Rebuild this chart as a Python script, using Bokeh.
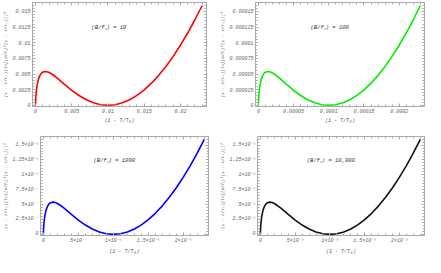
from bokeh.plotting import figure
from bokeh.layouts import column, row
from bokeh.models import FixedTicker, LinearAxis, Range1d, Label
from bokeh.embed import file_html
from bokeh.resources import INLINE

# ---------------- data ----------------
x1 = [0, 5e-6, 1e-5, 2e-5, 5e-5, 1e-4, 2e-4, 4e-4, 6e-4, 8e-4, 1e-3, 1.35e-3, 1.7e-3, 2e-3,
      2.5e-3, 3e-3, 4e-3, 5e-3, 6e-3, 7e-3, 8e-3, 9e-3, 1e-2, 1.1e-2, 1.2e-2, 1.3e-2, 1.4e-2,
      1.5e-2, 1.6e-2, 1.7e-2, 1.8e-2, 1.9e-2, 2e-2, 2.1e-2, 2.2e-2, 2.3e-2]
y1 = [0, 2.89e-4, 4.77e-4, 7.72e-4, 1.404e-3, 2.121e-3, 3.06e-3, 4.144e-3, 4.749e-3, 5.104e-3,
      5.302e-3, 5.413e-3, 5.338e-3, 5.18e-3, 4.805e-3, 4.349e-3, 3.358e-3, 2.402e-3, 1.566e-3,
      8.9e-4, 3.98e-4, 1.0e-4, 0, 1.0e-4, 3.99e-4, 8.95e-4, 1.585e-3, 2.466e-3, 3.534e-3,
      4.787e-3, 6.219e-3, 7.828e-3, 9.609e-3, 1.156e-2, 1.368e-2, 1.596e-2]

x2 = [0, 5e-8, 1e-7, 2e-7, 5e-7, 1e-6, 2e-6, 4e-6, 6e-6, 8e-6, 1e-5, 1.35e-5, 1.7e-5, 2e-5,
      2.5e-5, 3e-5, 4e-5, 5e-5, 6e-5, 7e-5, 8e-5, 9e-5, 1e-4, 1.1e-4, 1.2e-4, 1.3e-4, 1.4e-4,
      1.5e-4, 1.6e-4, 1.7e-4, 1.8e-4, 1.9e-4, 2e-4, 2.1e-4, 2.2e-4, 2.3e-4]
y2 = [0, 2.89e-6, 4.77e-6, 7.72e-6, 1.404e-5, 2.121e-5, 3.06e-5, 4.144e-5, 4.749e-5, 5.104e-5,
      5.302e-5, 5.413e-5, 5.338e-5, 5.18e-5, 4.805e-5, 4.349e-5, 3.358e-5, 2.402e-5, 1.566e-5,
      8.9e-6, 3.98e-6, 1.0e-6, 0, 1.0e-6, 3.99e-6, 8.95e-6, 1.585e-5, 2.466e-5, 3.534e-5,
      4.787e-5, 6.219e-5, 7.828e-5, 9.609e-5, 1.156e-4, 1.368e-4, 1.596e-4]

x3 = [0, 5e-10, 1e-9, 2e-9, 5e-9, 1e-8, 2e-8, 4e-8, 6e-8, 8e-8, 1e-7, 1.35e-7, 1.7e-7, 2e-7,
      2.5e-7, 3e-7, 4e-7, 5e-7, 6e-7, 7e-7, 8e-7, 9e-7, 1e-6, 1.1e-6, 1.2e-6, 1.3e-6, 1.4e-6,
      1.5e-6, 1.6e-6, 1.7e-6, 1.8e-6, 1.9e-6, 2e-6, 2.1e-6, 2.2e-6, 2.3e-6]
y3 = [0, 2.89e-8, 4.77e-8, 7.72e-8, 1.404e-7, 2.121e-7, 3.06e-7, 4.144e-7, 4.749e-7, 5.104e-7,
      5.302e-7, 5.413e-7, 5.338e-7, 5.18e-7, 4.805e-7, 4.349e-7, 3.358e-7, 2.402e-7, 1.566e-7,
      8.9e-8, 3.98e-8, 1.0e-8, 0, 1.0e-8, 3.99e-8, 8.95e-8, 1.585e-7, 2.466e-7, 3.534e-7,
      4.787e-7, 6.219e-7, 7.828e-7, 9.609e-7, 1.156e-6, 1.368e-6, 1.596e-6]

x4 = [0, 5e-12, 1e-11, 2e-11, 5e-11, 1e-10, 2e-10, 4e-10, 6e-10, 8e-10, 1e-9, 1.35e-9, 1.7e-9, 2e-9,
      2.5e-9, 3e-9, 4e-9, 5e-9, 6e-9, 7e-9, 8e-9, 9e-9, 1e-8, 1.1e-8, 1.2e-8, 1.3e-8, 1.4e-8,
      1.5e-8, 1.6e-8, 1.7e-8, 1.8e-8, 1.9e-8, 2e-8, 2.1e-8, 2.2e-8, 2.3e-8]
y4 = [0, 2.89e-10, 4.77e-10, 7.72e-10, 1.404e-9, 2.121e-9, 3.06e-9, 4.144e-9, 4.749e-9, 5.104e-9,
      5.302e-9, 5.413e-9, 5.338e-9, 5.18e-9, 4.805e-9, 4.349e-9, 3.358e-9, 2.402e-9, 1.566e-9,
      8.9e-10, 3.98e-10, 1.0e-10, 0, 1.0e-10, 3.99e-10, 8.95e-10, 1.585e-9, 2.466e-9, 3.534e-9,
      4.787e-9, 6.219e-9, 7.828e-9, 9.609e-9, 1.156e-8, 1.368e-8, 1.596e-8]

# tick values and labels
xt1 = [0, 0.005, 0.01, 0.015, 0.02]
xl1 = ["0", "0.005", "0.01", "0.015", "0.02"]
yt1 = [0, 0.0025, 0.005, 0.0075, 0.01, 0.0125, 0.015]
yl1 = ["0", "0.0025", "0.005", "0.0075", "0.01", "0.0125", "0.015"]

xt2 = [0, 0.00005, 0.0001, 0.00015, 0.0002]
xl2 = ["0", "0.00005", "0.0001", "0.00015", "0.0002"]
yt2 = [0, 0.000025, 0.00005, 0.000075, 0.0001, 0.000125, 0.00015]
yl2 = ["0", "0.000025", "0.00005", "0.000075", "0.0001", "0.000125", "0.00015"]

xt3 = [0, 5e-7, 1e-6, 1.5e-6, 2e-6]
xl3 = ["0", "5×10⁻⁷", "1×10⁻⁶", "1.5×10⁻⁶", "2×10⁻⁶"]
yt3 = [0, 2.5e-7, 5e-7, 7.5e-7, 1e-6, 1.25e-6, 1.5e-6]
yl3 = ["0", "2.5×10⁻⁷", "5×10⁻⁷", "7.5×10⁻⁷", "1×10⁻⁶", "1.25×10⁻⁶", "1.5×10⁻⁶"]

xt4 = [0, 5e-9, 1e-8, 1.5e-8, 2e-8]
xl4 = ["0", "5×10⁻⁹", "1×10⁻⁸", "1.5×10⁻⁸", "2×10⁻⁸"]
yt4 = [0, 2.5e-9, 5e-9, 7.5e-9, 1e-8, 1.25e-8, 1.5e-8]
yl4 = ["0", "2.5×10⁻⁹", "5×10⁻⁹", "7.5×10⁻⁹", "1×10⁻⁸", "1.25×10⁻⁸", "1.5×10⁻⁸"]

ratios = ["10", "100", "1000", "10,000"]
colors = ["#ff0000", "#00ee00", "#0000ff", "#111111"]

XLABEL = "(1 - T/T₀)"
YLABEL = "(1 - T/T₀)[ln[(B/f꜀)²(1 - T/T₀)]]²"

FONT = "Liberation Mono"
TICK_COLOR = "#666666"
FRAME_COLOR = "#aaaaaa"


def minors(ticks):
    step = ticks[1] - ticks[0]
    out = []
    for i in range(-1, len(ticks) + 1):
        base = ticks[0] + i * step
        for k in range(1, 5):
            out.append(base + k * step / 5)
    return out


def style_axis(ax, ticks, labels, show_labels=True):
    ax.ticker = FixedTicker(ticks=ticks, minor_ticks=minors(ticks))
    if show_labels:
        ax.major_label_overrides = {t: l for t, l in zip(ticks, labels)}
    else:
        ax.major_label_overrides = {t: "" for t in ticks}
    ax.axis_line_color = FRAME_COLOR
    ax.major_tick_line_color = FRAME_COLOR
    ax.minor_tick_line_color = FRAME_COLOR
    ax.major_tick_in = 3
    ax.major_tick_out = 0
    ax.minor_tick_in = 2
    ax.minor_tick_out = 0
    ax.major_label_text_font = FONT
    ax.major_label_text_font_style = "italic"
    ax.major_label_text_font_size = "5px"
    ax.major_label_text_color = TICK_COLOR
    ax.major_label_standoff = 2 if show_labels else 0
    ax.axis_label_text_font = FONT
    ax.axis_label_text_font_style = "italic"
    ax.axis_label_text_font_size = "5px"
    ax.axis_label_text_color = "#555555"
    ax.axis_label_standoff = 2


def panel(x, y, color, xt, xl, yt, yl, ratio, w, h, bl, br, bt, bb):
    xmax = max(x)
    ymax = max(y)
    p = figure(width=w, height=h, output_backend="svg", toolbar_location=None,
               x_range=Range1d(-0.018 * xmax, 1.026 * xmax),
               y_range=Range1d(-0.012 * ymax, 1.03 * ymax),
               min_border_left=bl, min_border_right=br,
               min_border_top=bt, min_border_bottom=bb)
    p.grid.visible = False
    p.outline_line_color = FRAME_COLOR
    p.background_fill_color = "white"
    p.border_fill_color = "white"
    p.line(x, y, line_color=color, line_width=1.6)

    style_axis(p.xaxis[0], xt, xl)
    style_axis(p.yaxis[0], yt, yl)
    p.xaxis[0].axis_label = XLABEL
    p.yaxis[0].axis_label = YLABEL
    p.yaxis[0].axis_label_text_font_size = "4.3px"
    p.yaxis[0].axis_label_standoff = 1

    top = LinearAxis()
    style_axis(top, xt, xl, show_labels=False)
    p.add_layout(top, "above")
    right = LinearAxis()
    style_axis(right, yt, yl, show_labels=False)
    p.add_layout(right, "right")

    p.add_layout(Label(x=0.44 * xmax, y=0.78 * ymax, text="(B/f꜀) = " + ratio,
                       text_font=FONT, text_font_style="italic",
                       text_font_size="5.5px", text_color="#333333",
                       text_align="center", text_baseline="middle"))
    return p


p1 = panel(x1, y1, colors[0], xt1, xl1, yt1, yl1, ratios[0], 212, 128, 30, 6, 2, 22)
p2 = panel(x2, y2, colors[1], xt2, xl2, yt2, yl2, ratios[1], 213, 128, 43, 1, 2, 22)
p3 = panel(x3, y3, colors[2], xt3, xl3, yt3, yl3, ratios[2], 212, 129, 37, 4, 8, 20)
p4 = panel(x4, y4, colors[3], xt4, xl4, yt4, yl4, ratios[3], 213, 129, 45, 1, 8, 20)

layout = column(row(p1, p2, spacing=0), row(p3, p4, spacing=0), spacing=0)
open("out.html", "w").write(file_html(layout, INLINE))
